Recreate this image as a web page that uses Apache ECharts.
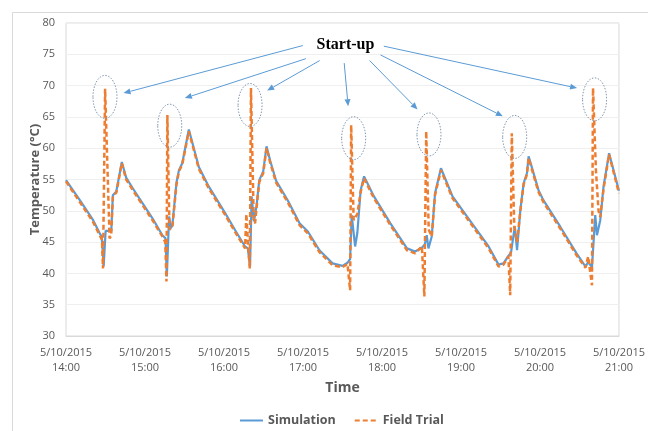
<!DOCTYPE html>
<html><head><meta charset="utf-8">
<script src="https://cdn.jsdelivr.net/npm/echarts/dist/echarts.min.js"></script>
<style>html,body{margin:0;padding:0;background:#fff}#c{width:648px;height:431px}</style>
</head><body><div id="c"></div>
<script>
// minutes after 5/10/2015 14:00
const simTime = [0,10.5,20.6,25.6,27.1,28.6,30.1,34.4,35.6,38.2,42.4,45.7,50.7,58.2,65.7,73.2,75.6,76.6,78.3,79.6,80.8,83.9,85.8,88.3,93.3,100.9,108.4,121.0,128.5,136.0,138.1,139.8,141.0,142.8,144.8,146.8,149.8,152.3,155.1,159.6,168.6,177.4,183.7,192.5,196.3,202.5,210.0,213.8,215.8,217.0,219.6,221.3,223.8,226.4,233.9,246.4,259.0,265.2,270.3,272.5,274.0,275.3,277.8,280.3,281.5,284.8,293.6,310.4,321.0,328.5,332.3,336.0,338.0,340.9,342.6,345.1,347.6,350.1,351.4,358.9,362.6,375.3,387.8,394.6,396.6,399.5,402.0,403.3,405.8,408.3,412.5,420.0];
const simTemp = [54.9,51.7,48.5,46.4,45.9,41.1,46.8,46.8,52.5,53.1,57.8,55.3,53.6,51.2,48.8,46.1,45.6,39.5,49.1,47.2,47.7,54.5,56.5,57.6,63.0,57.0,53.9,49.6,46.9,44.3,44.0,41.1,52.3,48.3,50.9,54.9,56.3,60.3,58.0,54.8,51.6,48.0,46.7,43.7,42.9,41.6,41.2,41.7,42.3,49.3,44.3,46.5,53.3,55.5,52.3,48.0,44.0,43.5,44.1,44.6,46.1,44.0,45.9,52.8,53.9,56.8,52.3,47.4,44.3,41.4,41.6,42.8,43.3,47.5,43.7,50.1,54.4,56.0,58.7,53.3,51.7,47.5,43.2,41.1,41.8,41.0,49.3,46.1,48.5,53.9,59.2,53.2];
const fieldTime = [0,10.5,20.6,25.6,27.3,28.1,29.7,33.1,34.3,35.6,38.2,42.4,45.7,50.7,58.2,65.7,73.2,75.4,76.3,77.0,78.6,80.8,83.9,85.8,88.3,93.3,100.9,108.4,121.0,128.5,136.0,137.0,138.3,139.6,140.5,142.6,143.6,144.8,146.8,149.8,152.3,155.1,159.6,168.6,177.4,183.7,192.5,196.3,202.5,210.0,213.8,215.8,216.6,218.5,221.3,223.8,226.4,233.9,246.4,259.0,265.2,270.3,272.2,273.6,275.5,277.8,280.3,281.5,284.8,293.6,310.4,321.0,328.5,332.3,336.0,337.4,338.6,340.5,342.6,345.1,347.6,350.1,351.4,358.9,362.6,375.3,387.8,394.6,396.6,399.5,400.3,402.5,404.5,405.8,408.3,412.5,420.0];
const fieldTemp = [54.7,51.4,48.2,46.1,45.4,40.8,69.5,45.6,46.0,52.3,52.9,57.6,55.0,53.3,50.9,48.5,45.9,45.0,38.7,65.3,47.0,47.4,54.2,56.3,57.4,62.7,56.7,53.6,49.3,46.6,44.0,49.5,44.5,40.8,69.6,48.5,48.0,50.6,54.6,56.0,60.0,57.7,54.5,51.3,47.7,46.4,43.4,42.6,41.3,41.0,41.5,37.3,63.7,48.5,49.5,53.0,55.2,52.0,47.7,43.7,43.2,44.3,36.3,62.7,47.0,45.9,52.5,53.6,56.5,52.0,47.1,44.0,41.1,41.4,42.7,36.5,62.4,47.5,45.0,50.0,54.2,55.8,58.4,53.0,51.4,47.2,42.9,40.9,42.7,38.1,69.6,56.5,50.0,49.0,53.5,59.0,52.8];
const dateText = '5/10/2015';
const startHour = 14;
const seriesNames = ['Simulation','Field Trial'];
const calloutText = 'Start-up';
// annotation anchors in data coords [minute, temp]
const calloutPos = [212.3, 76.5];
const arrowFrom = [[179.9,76.4],[182.2,74.3],[192.7,74.0],[211.3,73.6],[230.6,74.0],[238.9,74.9],[241.4,76.3]];
const arrowTo = [[43.7,68.8],[90.3,68.0],[152.8,69.2],[214.3,66.7],[267.0,66.2],[331.8,65.1],[388.2,69.6]];
const ellipseAt = [[29.6,68.2],[78.8,63.6],[139.8,66.9],[218.5,61.6],[275.7,62.2],[340.8,61.8],[401.5,67.8]];

const zip = (a,b)=>a.map((t,i)=>[t,b[i]]);
const chart = echarts.init(document.getElementById('c'), null, {renderer:'canvas'});
const font = 'Open Sans, Roboto, sans-serif';
chart.setOption({
  animation:false,
  grid:{left:66,right:23,top:23,bottom:95,show:true,borderColor:'#D9D9D9',borderWidth:1},
  xAxis:{type:'value',min:0,max:420,interval:60,
    axisLine:{lineStyle:{color:'#D9D9D9'}},axisTick:{show:false},splitLine:{show:false},
    axisLabel:{formatter:v=>dateText+'\n'+(startHour+Math.round(v/60))+':00',color:'#595959',fontSize:11,fontFamily:font,lineHeight:15,margin:9},
    name:'Time',nameLocation:'middle',nameGap:45,nameMoveOverlap:false,
    nameTextStyle:{fontWeight:'bold',fontSize:14,color:'#595959',fontFamily:font}},
  yAxis:{type:'value',min:30,max:80,interval:5,
    axisLine:{show:false},axisTick:{show:false},
    splitLine:{lineStyle:{color:'#EFEFEF'}},
    axisLabel:{color:'#595959',fontSize:11,fontFamily:font,margin:11},
    name:'Temperature (°C)',nameLocation:'middle',nameGap:24,nameMoveOverlap:false,
    nameTextStyle:{fontWeight:'bold',fontSize:13,color:'#595959',fontFamily:font}},
  legend:{left:234,top:409,itemWidth:23,itemHeight:14,itemGap:18,
    itemStyle:{opacity:0},
    textStyle:{fontWeight:'bold',fontSize:12.5,color:'#595959',fontFamily:font},
    data:seriesNames},
  series:[
    {name:seriesNames[0],type:'line',symbol:'none',data:zip(simTime,simTemp),
      lineStyle:{color:'#5B9BD5',width:2.2},itemStyle:{color:'#5B9BD5'}},
    {name:seriesNames[1],type:'line',symbol:'none',data:zip(fieldTime,fieldTemp),
      lineStyle:{color:'#ED7D31',width:2.5,type:[5,3]},itemStyle:{color:'#ED7D31'}}
  ]
});

const px = p => chart.convertToPixel({gridIndex:0}, p);
const g = [];
g.push({type:'rect',shape:{x:12.5,y:12.5,width:700,height:500},style:{fill:'none',stroke:'#D9D9D9',lineWidth:1},z:-1,silent:true});
const tp = px(calloutPos);
g.push({type:'text',x:tp[0],y:tp[1],style:{text:calloutText,font:'bold 16px "Liberation Serif", "Times New Roman", serif',fill:'#000',textAlign:'center',textVerticalAlign:'middle'},z:10});
arrowFrom.forEach((f,i)=>{
  const a = px(f), b = px(arrowTo[i]);
  const dx=b[0]-a[0], dy=b[1]-a[1], L=Math.hypot(dx,dy), ux=dx/L, uy=dy/L;
  const hl=7, hw=3;
  const bx=b[0]-ux*hl, by=b[1]-uy*hl;
  g.push({type:'line',shape:{x1:a[0],y1:a[1],x2:bx,y2:by},style:{stroke:'#5B9BD5',lineWidth:1},z:10});
  g.push({type:'polygon',shape:{points:[[b[0],b[1]],[bx-uy*hw,by+ux*hw],[bx+uy*hw,by-ux*hw]]},style:{fill:'#5B9BD5'},z:10});
});
ellipseAt.forEach(e=>{
  const c = px(e);
  g.push({type:'ellipse',shape:{cx:c[0],cy:c[1],rx:12,ry:21.5},style:{fill:'none',stroke:'#8497B0',lineWidth:1,lineDash:[1.5,1.5]},z:10});
});
chart.setOption({graphic:g});
</script></body></html>
